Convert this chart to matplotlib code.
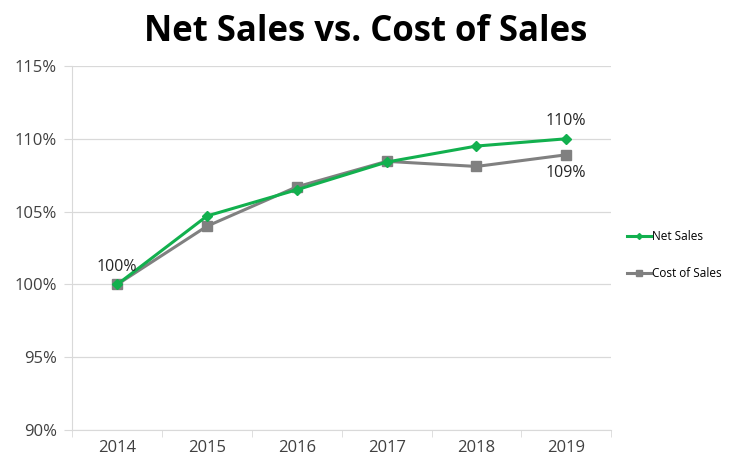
import numpy as np
import matplotlib.pyplot as plt
from matplotlib.ticker import FuncFormatter

years = ["2014", "2015", "2016", "2017", "2018", "2019"]
net_sales = [100.0, 104.7, 106.5, 108.4, 109.5, 110.0]
cost_of_sales = [100.0, 104.0, 106.7, 108.45, 108.1, 108.9]

plt.rcParams['font.family'] = ['Open Sans', 'DejaVu Sans']

fig = plt.figure(figsize=(7.31, 4.58), dpi=100)
ax = fig.add_axes([0.099, 0.061, 0.737, 0.795])

x = np.arange(len(years))
green = "#12B04E"
grey = "#808080"

ax.plot(x, net_sales, color=green, lw=2.2, marker="D", ms=5, label="Net Sales", zorder=3)
ax.plot(x, cost_of_sales, color=grey, lw=2.2, marker="s", ms=7, label="Cost of Sales", zorder=2)

# data labels
ax.annotate("100%", (x[0], net_sales[0]), xytext=(0, 7), textcoords="offset points",
            ha="center", va="bottom", fontsize=11.5, color="#262626")
ax.annotate("110%", (x[-1], net_sales[-1]), xytext=(0, 7), textcoords="offset points",
            ha="center", va="bottom", fontsize=11.5, color="#262626")
ax.annotate("109%", (x[-1], cost_of_sales[-1]), xytext=(0, -7), textcoords="offset points",
            ha="center", va="top", fontsize=11.5, color="#262626")

ax.set_xlim(-0.5, len(years) - 0.5)
ax.set_ylim(90, 115)
ax.set_yticks(np.arange(90, 116, 5))
ax.yaxis.set_major_formatter(FuncFormatter(lambda v, p: f"{v:.0f}%"))
ax.set_xticks(x)
ax.set_xticklabels(years)
ax.set_xticks(np.arange(-0.5, len(years), 1), minor=True)

ax.grid(axis="y", color="#D9D9D9", lw=0.9)
ax.set_axisbelow(True)
for s in ["top", "right"]:
    ax.spines[s].set_visible(False)
for s in ["left", "bottom"]:
    ax.spines[s].set_color("#D9D9D9")
ax.tick_params(axis="x", which="major", length=0, pad=7, labelsize=12, labelcolor="#404040")
ax.tick_params(axis="x", which="minor", length=5, color="#D9D9D9", direction="out")
ax.tick_params(axis="y", length=6, color="#D9D9D9", pad=5, labelsize=12, labelcolor="#404040")

fig.suptitle("Net Sales vs. Cost of Sales", x=0.5, y=0.97, fontsize=25, fontweight="bold", color="black")

ax.legend(loc="center left", bbox_to_anchor=(1.01, 0.48), frameon=False, fontsize=8.5,
          labelspacing=2.0, handlelength=2.0, handletextpad=0.1, markerscale=0.6)

fig.savefig("out.png", dpi=100)
